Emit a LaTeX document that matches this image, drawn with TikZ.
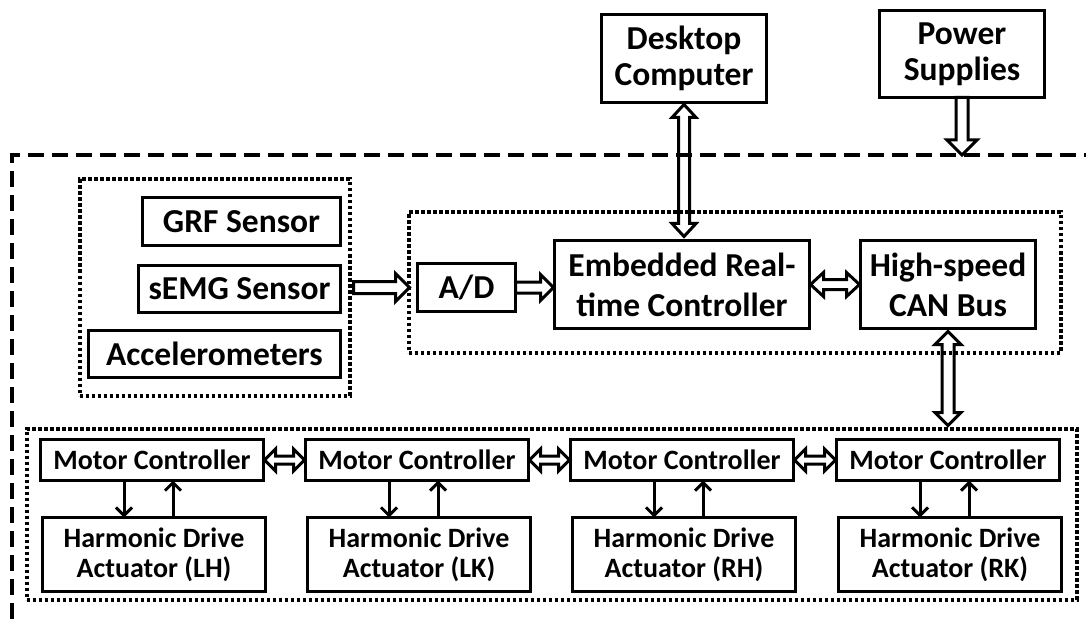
\documentclass[tikz,border=0pt]{standalone}
\usepackage{fontspec}
\setmainfont{Carlito}
\usetikzlibrary{arrows.meta,calc}

% hollow block arrows drawn between named points
\newcommand{\hollowR}[5]{% single, left to right, tip at #2
  \draw[hollow] let \p1=(#1), \p2=(#2) in
    (\x1,\y1+#3pt) -- (\x2-#5pt,\y1+#3pt) -- (\x2-#5pt,\y1+#4pt) -- (\x2,\y1)
    -- (\x2-#5pt,\y1-#4pt) -- (\x2-#5pt,\y1-#3pt) -- (\x1,\y1-#3pt) -- cycle;}
\newcommand{\hollowLR}[5]{% double, horizontal
  \draw[hollow] let \p1=(#1), \p2=(#2) in
    (\x1,\y1) -- (\x1+#5pt,\y1+#4pt) -- (\x1+#5pt,\y1+#3pt) -- (\x2-#5pt,\y1+#3pt)
    -- (\x2-#5pt,\y1+#4pt) -- (\x2,\y1) -- (\x2-#5pt,\y1-#4pt) -- (\x2-#5pt,\y1-#3pt)
    -- (\x1+#5pt,\y1-#3pt) -- (\x1+#5pt,\y1-#4pt) -- cycle;}
\newcommand{\hollowD}[5]{% single, top to bottom, tip at #2
  \draw[hollow] let \p1=(#1), \p2=(#2) in
    (\x1-#3pt,\y1) -- (\x1-#3pt,\y2+#5pt) -- (\x1-#4pt,\y2+#5pt) -- (\x1,\y2)
    -- (\x1+#4pt,\y2+#5pt) -- (\x1+#3pt,\y2+#5pt) -- (\x1+#3pt,\y1) -- cycle;}
\newcommand{\hollowUD}[5]{% double, vertical, #1 top, #2 bottom
  \draw[hollow] let \p1=(#1), \p2=(#2) in
    (\x1,\y1) -- (\x1+#4pt,\y1-#5pt) -- (\x1+#3pt,\y1-#5pt) -- (\x1+#3pt,\y2+#5pt)
    -- (\x1+#4pt,\y2+#5pt) -- (\x1,\y2) -- (\x1-#4pt,\y2+#5pt) -- (\x1-#3pt,\y2+#5pt)
    -- (\x1-#3pt,\y1-#5pt) -- (\x1-#4pt,\y1-#5pt) -- cycle;}

\begin{document}
\begin{tikzpicture}[x=1pt,y=-1pt,
  box/.style={draw, line width=3.5pt, inner sep=0pt, outer sep=0pt, align=center,
              font=\bfseries\fontsize{33.5}{36}\selectfont},
  tallbox/.style={box, font=\bfseries\fontsize{33.5}{40}\selectfont},
  mbox/.style={box, font=\bfseries\fontsize{28}{30}\selectfont},
  group/.style={draw, line width=4pt, dash pattern=on 3.5pt off 2.5pt, inner sep=0pt, outer sep=0pt},
  hollow/.style={draw, line width=3pt, line join=miter},
  sarr/.style={line width=3pt, -{Straight Barb[length=8pt,width=16pt]}},
  frame/.style={line width=4.5pt, dash pattern=on 16pt off 8pt}]

\fill[white] (0,0) rectangle (1086,620);
\useasboundingbox (0,0) rectangle (1086,620);

% outer dashed frame
\draw[frame] (1100,155) -- (12,155) -- (12,622.5) -- (1100,622.5);

% groups
\node[group, minimum width=270pt, minimum height=216pt] (sensors) at (214.5,287.5) {};
\node[group, minimum width=652pt, minimum height=140pt] (ctrl) at (734.5,282.5) {};
\node[group, minimum width=1050pt, minimum height=171pt] (motors) at (551.5,514) {};

% top boxes
\node[box, minimum width=165pt, minimum height=88pt] (desk) at (684,58.5) {Desktop\\Computer};
\node[box, minimum width=165pt, minimum height=87pt] (power) at (962,54) {Power\\Supplies};
\coordinate (ptop) at (962,155);

% sensors
\node[box, minimum width=198pt, minimum height=48pt] (grf) at (241.5,221.5) {GRF Sensor};
\node[box, minimum width=202pt, minimum height=47pt] (semg) at (239.5,289) {sEMG Sensor};
\node[box, minimum width=252pt, minimum height=47pt] (acc) at (214.5,354) {Accelerometers};

% controller
\node[box, minimum width=98pt, minimum height=48pt] (ad) at (466.5,287.5) {A/D};
\node[tallbox, minimum width=255pt, minimum height=88pt] (emb) at (682,284.5) {Embedded Real-\\time Controller};
\node[tallbox, minimum width=175pt, minimum height=88pt] (can) at (948,284.5) {High-speed\\CAN Bus};

% motor controllers and actuators
\foreach \i/\mx/\hx/\lab in {1/152/154/LH, 2/417/419/LK, 3/682/684/RH, 4/948/950/RK}{
  \node[mbox, minimum width=223pt, minimum height=41pt] (mc\i) at (\mx,460) {Motor Controller};
  \node[mbox, minimum width=223pt, minimum height=74pt] (hda\i) at (\hx,554.5) {Harmonic Drive\\Actuator (\lab)};
  \draw[sarr] ([xshift=-28pt]mc\i.south) -- ([xshift=-28pt]mc\i.south |- hda\i.north);
  \draw[sarr] ([xshift=21pt]mc\i.south |- hda\i.north) -- ([xshift=21pt]mc\i.south);
}

% hollow arrows
\hollowUD{[yshift=-2pt]desk.south}{[yshift=4pt]emb.north}{5.5}{12}{13}
\hollowD{power.south}{ptop}{6}{15}{15}
\hollowR{[xshift=4pt]sensors.east}{[xshift=1pt]ctrl.west}{6}{14}{14}
\hollowR{ad.east}{[xshift=-1pt]emb.west}{5.5}{13}{13}
\hollowLR{[xshift=1pt]emb.east}{[xshift=-1pt]can.west}{5}{12}{13}
\hollowUD{[yshift=-3pt]can.south}{[yshift=3pt]motors.north}{6}{13}{13}
\hollowLR{[xshift=1pt]mc1.east}{[xshift=-1pt]mc2.west}{4}{11}{11}
\hollowLR{[xshift=1pt]mc2.east}{[xshift=-1pt]mc3.west}{4}{11}{11}
\hollowLR{[xshift=1pt]mc3.east}{[xshift=-1pt]mc4.west}{4}{11}{11}
\end{tikzpicture}
\end{document}
